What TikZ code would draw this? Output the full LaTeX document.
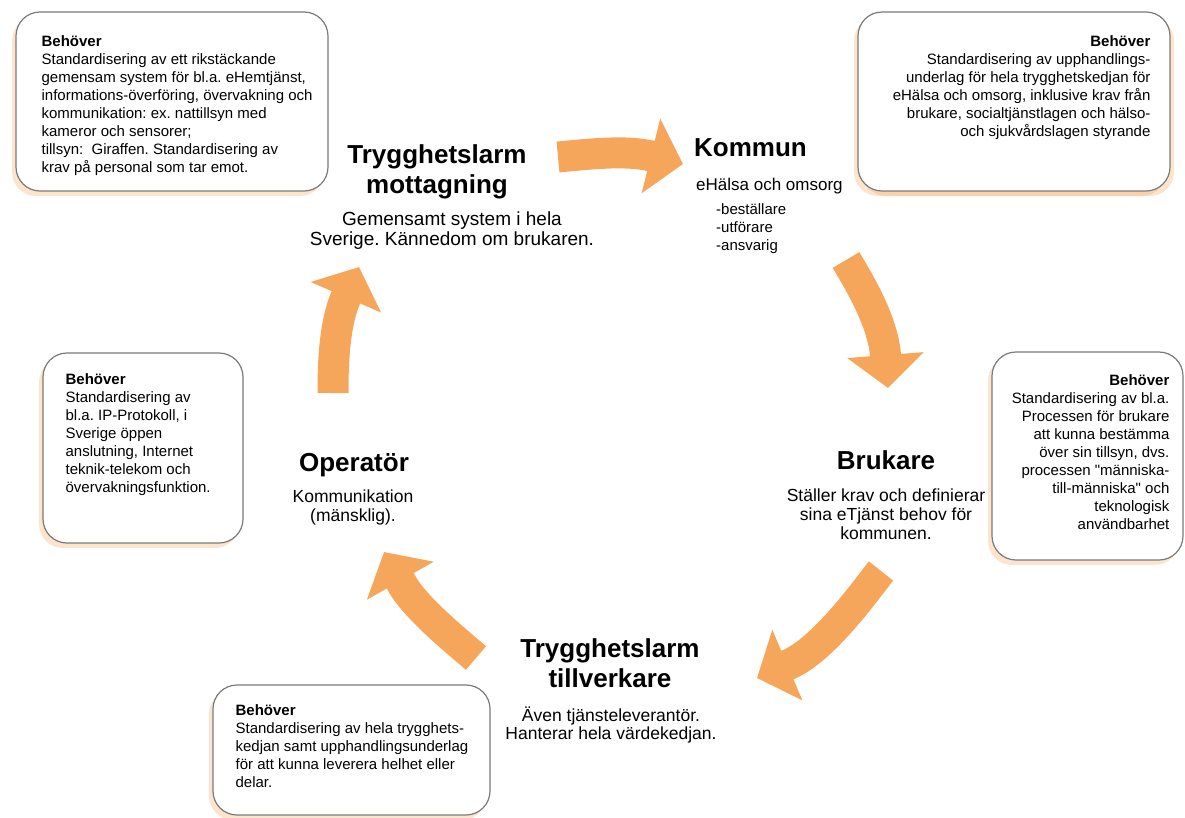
\documentclass[tikz,border=0pt]{standalone}
\usepackage{fontspec}
\setmainfont{Liberation Sans}
\usetikzlibrary{positioning, arrows.meta, shadows}
\definecolor{arrorange}{HTML}{F6A65A}
\definecolor{boxgray}{HTML}{7A7A7A}

\begin{document}
\frenchspacing
\begin{tikzpicture}[
    x=1pt, y=1pt,
    needbox/.style={draw=boxgray, line width=1.2pt, fill=white, rounded corners=24pt,
        drop shadow={shadow xshift=-4pt, shadow yshift=-5pt, fill=arrorange, opacity=0.3}},
    needboxr/.style={needbox, drop shadow={shadow xshift=4pt, shadow yshift=-5pt, fill=arrorange, opacity=0.3}},
    needtext/.style={inner sep=0pt, align=left, font=\fontsize{15}{18}\selectfont},
    title/.style={inner sep=0pt, align=center, font=\fontsize{26}{30}\selectfont\bfseries},
    subtext/.style={inner sep=0pt, align=center, font=\fontsize{17.5}{19}\selectfont},
    bigarr/.style={draw=arrorange, line width=31pt, -{Triangle[width=75pt, length=33pt]}}
]
    \useasboundingbox (0,0) rectangle (1185,-817);

    % boxes with needs
    \node[needbox, minimum width=312pt, minimum height=179pt] (need1) at (172,-101.5) {};
    \node[needboxr, minimum width=312pt, minimum height=179pt] (need2) at (1014,-101.5) {};
    \node[needbox, minimum width=191pt, minimum height=208pt] (need3) at (1087.5,-456) {};
    \node[needbox, minimum width=200pt, minimum height=190pt] (need4) at (143,-448) {};
    \node[needbox, minimum width=277pt, minimum height=130pt] (need5) at (351.5,-750) {};

    \node[needtext, anchor=north west] (need1txt) at ([shift={(26,-24)}]need1.north west)
        {\textbf{Behöver}\\Standardisering av ett rikstäckande\\gemensam system för bl.a. eHemtjänst,\\informations-överföring, övervakning och\\kommunikation: ex. nattillsyn med\\kameror och sensorer;\\tillsyn:\ \ Giraffen. Standardisering av\\krav på personal som tar emot.};
    \node[needtext, align=right, anchor=north east] (need2txt) at ([shift={(-20,-24)}]need2.north east)
        {\textbf{Behöver}\\Standardisering av upphandlings-\\underlag för hela trygghetskedjan för\\eHälsa och omsorg, inklusive krav från\\brukare, socialtjänstlagen och hälso-\\och sjukvårdslagen styrande};
    \node[needtext, align=right, anchor=north east] (need3txt) at ([shift={(-14,-23)}]need3.north east)
        {\textbf{Behöver}\\Standardisering av bl.a.\\Processen för brukare\\att kunna bestämma\\över sin tillsyn, dvs.\\processen \textquotedbl människa-\\till-människa\textquotedbl{} och\\teknologisk\\användbarhet};
    \node[needtext, anchor=north west] (need4txt) at ([shift={(23,-21)}]need4.north west)
        {\textbf{Behöver}\\Standardisering av\\bl.a. IP-Protokoll, i\\Sverige öppen\\anslutning, Internet\\teknik-telekom och\\övervakningsfunktion.};
    \node[needtext, anchor=north west] (need5txt) at ([shift={(23,-20)}]need5.north west)
        {\textbf{Behöver}\\Standardisering av hela trygghets-\\kedjan samt upphandlingsunderlag\\för att kunna leverera helhet eller\\delar.};

    % actors in the chain
    \node[title] (mott) at (437,-172) {Trygghetslarm\\mottagning};
    \node[subtext, font=\fontsize{19}{20}\selectfont] (mottsub) [below=12pt of mott, xshift=15pt] {Gemensamt system i hela\\Sverige. Kännedom om brukaren.};

    \node[title, anchor=west] (kommun) at (694,-148) {Kommun};
    \node[subtext, font=\fontsize{17}{19}\selectfont] (kommunsub) [below right=21pt and 2pt of kommun.south west] {eHälsa och omsorg};
    \node[needtext, font=\fontsize{15}{18}\selectfont] (kommunlist) [below right=9pt and 20pt of kommunsub.south west] {-beställare\\-utförare\\-ansvarig};

    \node[title] (brukare) at (886,-460) {Brukare};
    \node[subtext] (brukaresub) [below=19pt of brukare] {Ställer krav och definierar\\sina eTjänst behov för\\kommunen.};

    \node[title] (tillv) at (610,-663) {Trygghetslarm\\tillverkare};
    \node[subtext, font=\fontsize{17.5}{18}\selectfont] (tillvsub) [below=19pt of tillv, xshift=1pt] {Även tjänsteleverantör.\\Hanterar hela värdekedjan.};

    \node[title] (oper) at (354,-465) {Operatör};
    \node[subtext] (opersub) [below=13pt of oper, xshift=-1pt] {Kommunikation\\(mänsklig).};

    % cycle arrows: tail, head base, tip
    \coordinate (a1s) at (558,-157);
    \coordinate (a1b) at (651,-156);
    \coordinate (a1e) at (683,-164);
    \coordinate (a2s) at (846,-260);
    \coordinate (a2b) at (885.5,-355.5);
    \coordinate (a2e) at (888,-388);
    \coordinate (a3s) at (881,-571);
    \coordinate (a3b) at (787.5,-665);
    \coordinate (a3e) at (757,-678);
    \coordinate (a4s) at (476,-658);
    \coordinate (a4b) at (400.5,-581);
    \coordinate (a4e) at (384,-552);
    \coordinate (a5s) at (333,-393);
    \coordinate (a5b) at (346,-297);
    \coordinate (a5e) at (359,-267);

    \draw[bigarr] (a1s) .. controls (590,-154) and (626,-150) .. (a1b) -- (a1e);
    \draw[bigarr] (a2s) .. controls (856,-277) and (883,-320) .. (a2b) -- (a2e);
    \draw[bigarr] (a3s) .. controls (868,-587) and (824,-650) .. (a3b) -- (a3e);
    \draw[bigarr] (a4s) .. controls (455,-640) and (412,-605) .. (a4b) -- (a4e);
    \draw[bigarr] (a5s) .. controls (333,-365) and (334,-325) .. (a5b) -- (a5e);
\end{tikzpicture}
\end{document}
